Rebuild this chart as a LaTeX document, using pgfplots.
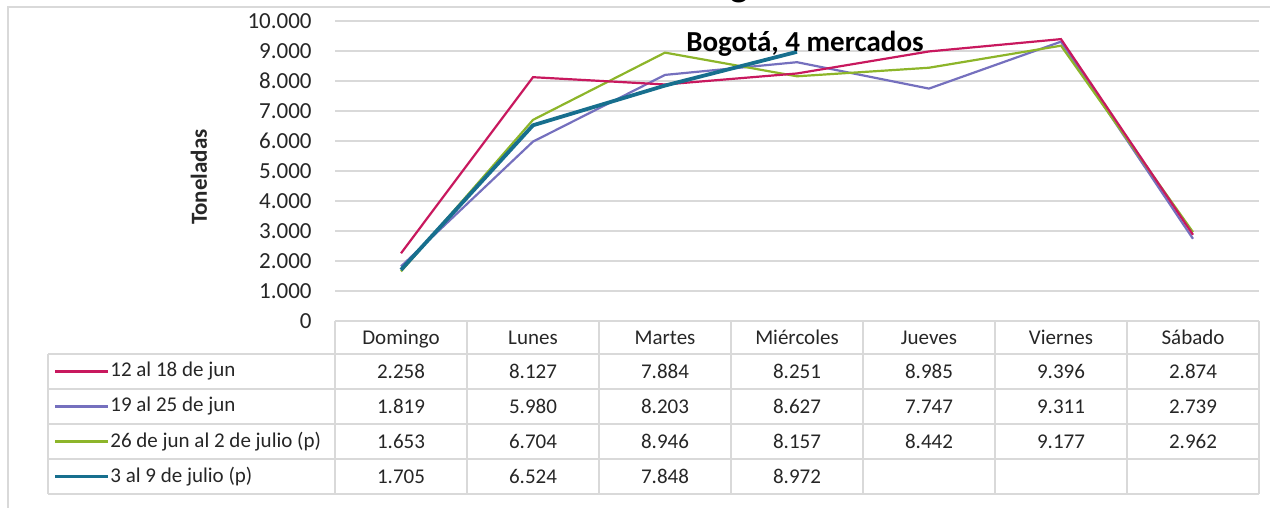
\documentclass[border=0pt]{standalone}
\usepackage{fontspec}
\setmainfont{Carlito}
\usepackage{pgfplots}
\pgfplotsset{compat=1.18}
\definecolor{cA}{HTML}{C8185E}
\definecolor{cB}{HTML}{7570BE}
\definecolor{cC}{HTML}{8DB52A}
\definecolor{cD}{HTML}{176F8E}
\definecolor{gridc}{HTML}{D9D9D9}
\definecolor{txt}{HTML}{262626}
\begin{document}
\begin{tikzpicture}[x=0.5pt,y=-0.5pt]
\useasboundingbox (0,0) rectangle (1270,508);
\draw[gridc, line width=1pt] (8,510) -- (8,7) -- (1272,7);
\node[font=\fontsize{19}{20}\selectfont\bfseries, anchor=base, inner sep=0pt] at (740,-3) {g};
\begin{axis}[
  at={(167.5pt,-160.5pt)}, anchor=south west,
  scale only axis, width=462pt, height=150pt,
  xmin=-0.5, xmax=6.5, ymin=0, ymax=10000,
  axis line style={draw=none},
  xtick=\empty,
  scaled y ticks=false,
  ytick={0,1000,2000,3000,4000,5000,6000,7000,8000,9000,10000},
  yticklabels={0,1.000,2.000,3.000,4.000,5.000,6.000,7.000,8.000,9.000,10.000},
  ymajorgrids, grid style={gridc, line width=1pt},
  major tick length=0pt,
  yticklabel style={font=\fontsize{11.5}{13}\selectfont, text=txt, inner sep=0pt, anchor=east, xshift=-11.5pt},
  clip=false,
]
\addplot[cB, line width=1.1pt] coordinates {(0,1819)(1,5980)(2,8203)(3,8627)(4,7747)(5,9311)(6,2739)};
\addplot[cC, line width=1.1pt] coordinates {(0,1653)(1,6704)(2,8946)(3,8157)(4,8442)(5,9177)(6,2962)};
\addplot[cA, line width=1.1pt] coordinates {(0,2258)(1,8127)(2,7884)(3,8251)(4,8985)(5,9396)(6,2874)};
\addplot[cD, line width=1.9pt] coordinates {(0,1705)(1,6524)(2,7848)(3,8972)};
\end{axis}
\node[font=\fontsize{14.5}{16}\selectfont\bfseries, anchor=base, inner sep=0pt] at (805,52) {Bogotá, 4 mercados};
\node[rotate=90, font=\fontsize{11.5}{13}\selectfont\bfseries, text=txt] at (199,177) {Toneladas};
% table
\begin{scope}[gridc, line width=0.75pt]
\foreach \x in {335,467,599,731,863,995,1127,1259} \draw (\x,321) -- (\x,494);
\draw (48,354) -- (48,494);
\foreach \y in {354,389,424,459,494} \draw (48,\y) -- (1259,\y);
\draw (335,321) -- (1259,321);
\end{scope}
\begin{scope}[every node/.style={font=\fontsize{10.5}{12}\selectfont, text=txt}]
\foreach \n [count=\i from 0] in {Domingo,Lunes,Martes,Miércoles,Jueves,Viernes,Sábado}
  \node[anchor=base] at (401+132*\i,344) {\n};
\foreach \v [count=\i from 0] in {2.258,8.127,7.884,8.251,8.985,9.396,2.874}
  \node at (401+132*\i,371.5) {\v};
\foreach \v [count=\i from 0] in {1.819,5.980,8.203,8.627,7.747,9.311,2.739}
  \node at (401+132*\i,406.5) {\v};
\foreach \v [count=\i from 0] in {1.653,6.704,8.946,8.157,8.442,9.177,2.962}
  \node at (401+132*\i,441.5) {\v};
\foreach \v [count=\i from 0] in {1.705,6.524,7.848,8.972}
  \node at (401+132*\i,476.5) {\v};
\draw[cA, line width=1.1pt] (55,371.5) -- (108,371.5);
\node[anchor=west, inner sep=0pt] at (110,371.5) {12 al 18 de jun};
\draw[cB, line width=1.1pt] (55,406.5) -- (108,406.5);
\node[anchor=west, inner sep=0pt] at (110,406.5) {19 al 25 de jun};
\draw[cC, line width=1.1pt] (55,441.5) -- (108,441.5);
\node[anchor=west, inner sep=0pt] at (110,441.5) {26 de jun al 2 de julio (p)};
\draw[cD, line width=1.9pt] (55,476.5) -- (108,476.5);
\node[anchor=west, inner sep=0pt] at (110,476.5) {3 al 9 de julio (p)};
\end{scope}
\end{tikzpicture}
\end{document}
